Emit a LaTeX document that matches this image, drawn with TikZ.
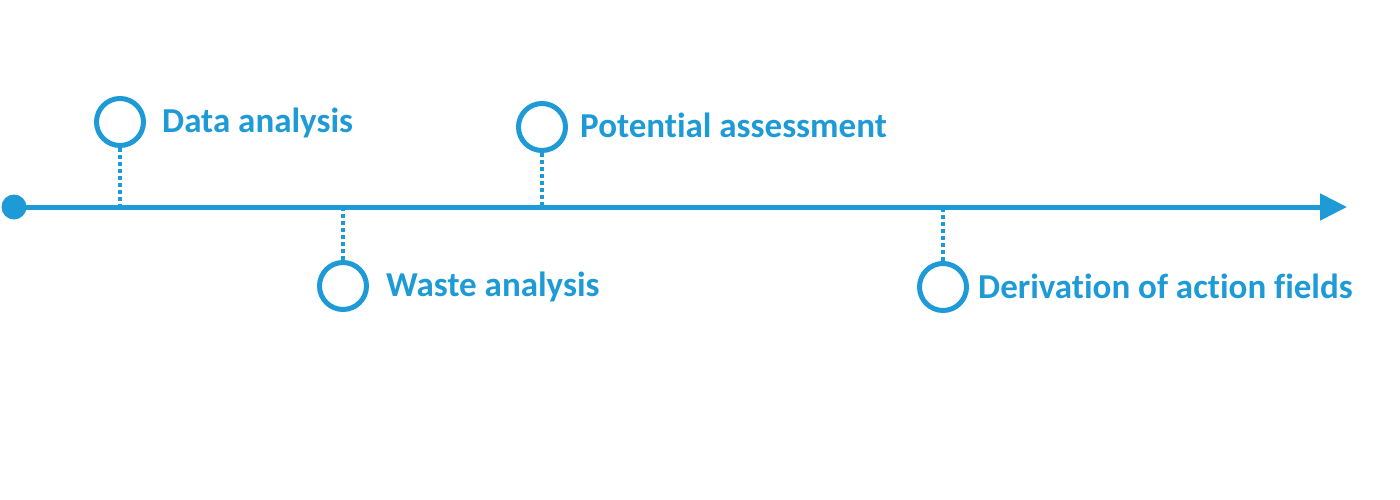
\documentclass[tikz,border=0pt]{standalone}
\usepackage{fontspec}
\setmainfont{Carlito}[Ligatures=NoCommon]
\usetikzlibrary{arrows.meta}
\definecolor{tlblue}{HTML}{1E9BD7}
\tikzset{
  tl/.style={draw=tlblue,line width=5pt,-{Triangle[length=27pt,width=26pt]}},
  startdot/.style={circle,fill=tlblue,inner sep=0pt,minimum size=25pt},
  milestone/.style={circle,draw=tlblue,line width=5pt,inner sep=0pt,minimum size=47pt},
  dotline/.style={draw=tlblue,line width=4pt,dash pattern=on 4pt off 3pt},
  lbl/.style={anchor=base west,inner sep=0pt,text=tlblue,font=\fontsize{35}{40}\selectfont\bfseries}
}
\begin{document}
\begin{tikzpicture}[x=1pt,y=-1pt]
\useasboundingbox (0,0) rectangle (1400,500);
\node[startdot] (start) at (14,207) {};
\coordinate (end) at (1347,207);
\draw[tl] (start.center) -- (end);
\coordinate (t1) at (120,207);
\coordinate (t2) at (343,207);
\coordinate (t3) at (542,209);
\coordinate (t4) at (943,207);
\node[milestone] (c1) at (120,122) {};
\node[milestone] (c2) at (343,286) {};
\node[milestone] (c3) at (542,127) {};
\node[milestone] (c4) at (943,287) {};
\draw[dotline] (c1.south) -- (t1);
\draw[dotline] (c2.north) -- (t2);
\draw[dotline] (c3.south) -- (t3);
\draw[dotline] (c4.north) -- (t4);
\node[lbl] (l1) at (162,133) {Data analysis};
\node[lbl] (l2) at (386,296) {Waste analysis};
\node[lbl] (l3) at (580,138) {Potential assessment};
\node[lbl] (l4) at (978,298) {Derivation of action fields};
\end{tikzpicture}
\end{document}
